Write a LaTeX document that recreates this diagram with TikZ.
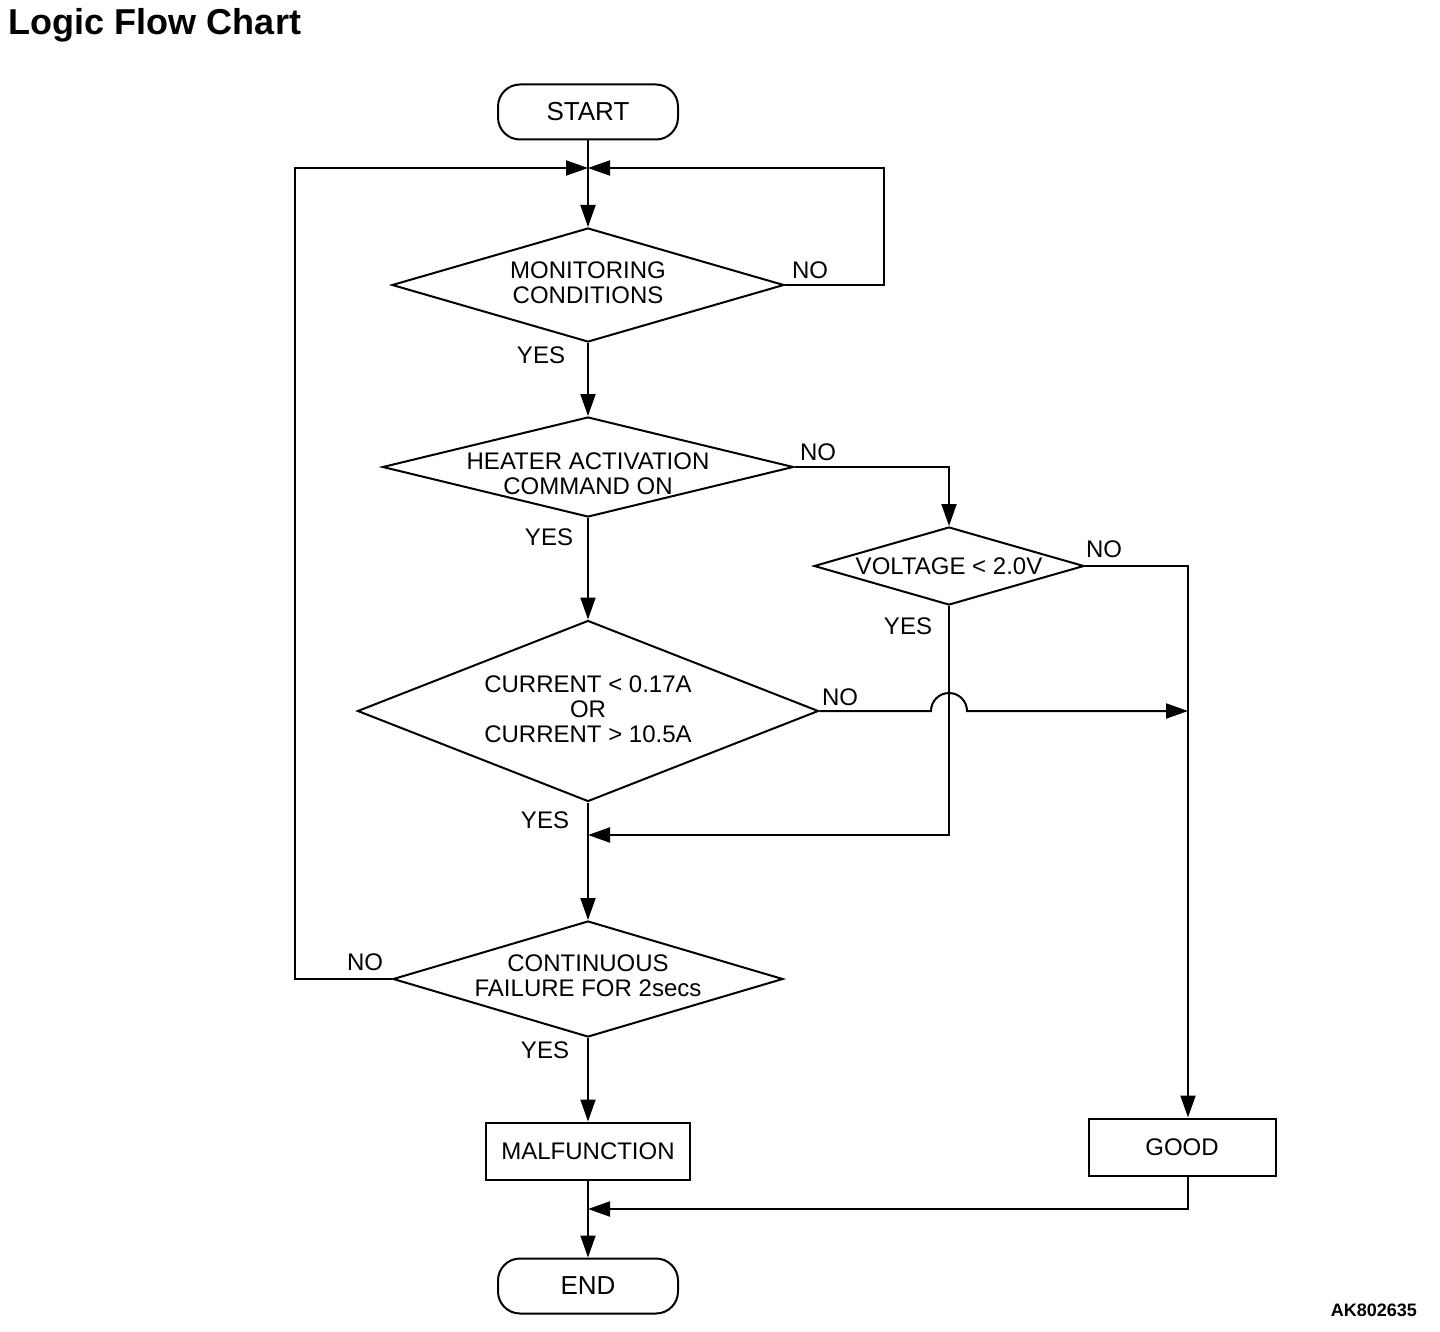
\documentclass[tikz,border=0pt]{standalone}
\usepackage{fontspec}
\setmainfont{Liberation Sans}
\usetikzlibrary{shapes.geometric,arrows.meta}
\begin{document}
\begin{tikzpicture}[x=1pt,y=-1pt,line width=2pt,
  every node/.style={font=\fontsize{24}{25}\selectfont,inner sep=0pt},
  term/.style={draw,rounded corners=22pt,minimum width=180pt,minimum height=55pt,font=\fontsize{26}{26}\selectfont},
  box/.style={draw,minimum height=57pt},
  dec/.style={draw,diamond,inner sep=0pt},
  dtext/.style={align=center},
  arr/.style={-{Triangle[length=22pt,width=15pt]}},
]
\useasboundingbox (0,0) rectangle (1440,1332);
\node[font=\bfseries\fontsize{36}{36}\selectfont,anchor=base west] (title) at (8,35) {Logic Flow Chart};
\node[font=\bfseries\fontsize{18}{18}\selectfont,anchor=base east] (code) at (1418,1316) {AK802635};

\node[term] (start) at (588,112) {START};
\node[dec,minimum width=392pt,minimum height=114pt] (d1) at (588,285) {};
\node[dtext] (t1) at ([yshift=2pt]d1.center) {MONITORING\\CONDITIONS};
\node[dec,minimum width=411pt,minimum height=100pt] (d2) at (588,467) {};
\node[dtext] (t2) at ([yshift=-7pt]d2.center) {HEATER ACTIVATION\\COMMAND ON};
\node[dec,minimum width=270pt,minimum height=78pt] (d3) at (949,566) {};
\node[dtext] (t3) at (d3.center) {VOLTAGE < 2.0V};
\node[dec,minimum width=461pt,minimum height=181pt] (d4) at (588,711) {};
\node[dtext] (t4) at ([yshift=2pt]d4.center) {CURRENT < 0.17A\\OR\\CURRENT > 10.5A};
\node[dec,minimum width=390pt,minimum height=116pt] (d5) at (588,979) {};
\node[dtext] (t5) at ([yshift=3pt]d5.center) {CONTINUOUS\\FAILURE FOR 2secs};
\node[box,minimum width=204pt] (malf) at (588,1151) {MALFUNCTION};
\node[box,minimum width=187pt] (good) at (1182,1147) {GOOD};
\node[term] (end) at (588,1286) {END};

\node (no1) at (810,270) {NO};
\node (yes1) at (541,355) {YES};
\node (no2) at (818,452) {NO};
\node (yes2) at (549,537) {YES};
\node (no3) at (1104,549) {NO};
\node (yes3) at (908,626) {YES};
\node (no4) at (840,697) {NO};
\node (yes4) at (545,820) {YES};
\node (no5) at (365,962) {NO};
\node (yes5) at (545,1050) {YES};

\coordinate (m1) at (588,168);
\coordinate (m2) at (588,835);
\coordinate (m3) at (588,1209);
\coordinate (gx) at (1188,566);

\draw[arr] (start.south) -- (d1.north);
\draw[arr] (d1.east) -- ++(99,0) |- (m1);
\draw[arr] (d5.west) -- ++(-97,0) |- (m1);
\draw[arr] (d1.south) -- (d2.north);
\draw[arr] (d2.east) -| (d3.north);
\draw[arr] (d2.south) -- (d4.north);
\draw[arr] (d3.east) -| (gx |- good.north);
\draw[arr] (d3.south) |- (m2);
\draw[arr] (d4.east) -- (931,711) arc (180:360:18) -- (gx |- d4.east);
\draw[arr] (d4.south) -- (d5.north);
\draw[arr] (d5.south) -- (malf.north);
\draw[arr] (good.south -| gx) |- (m3);
\draw[arr] (malf.south) -- (end.north);
\end{tikzpicture}
\end{document}
